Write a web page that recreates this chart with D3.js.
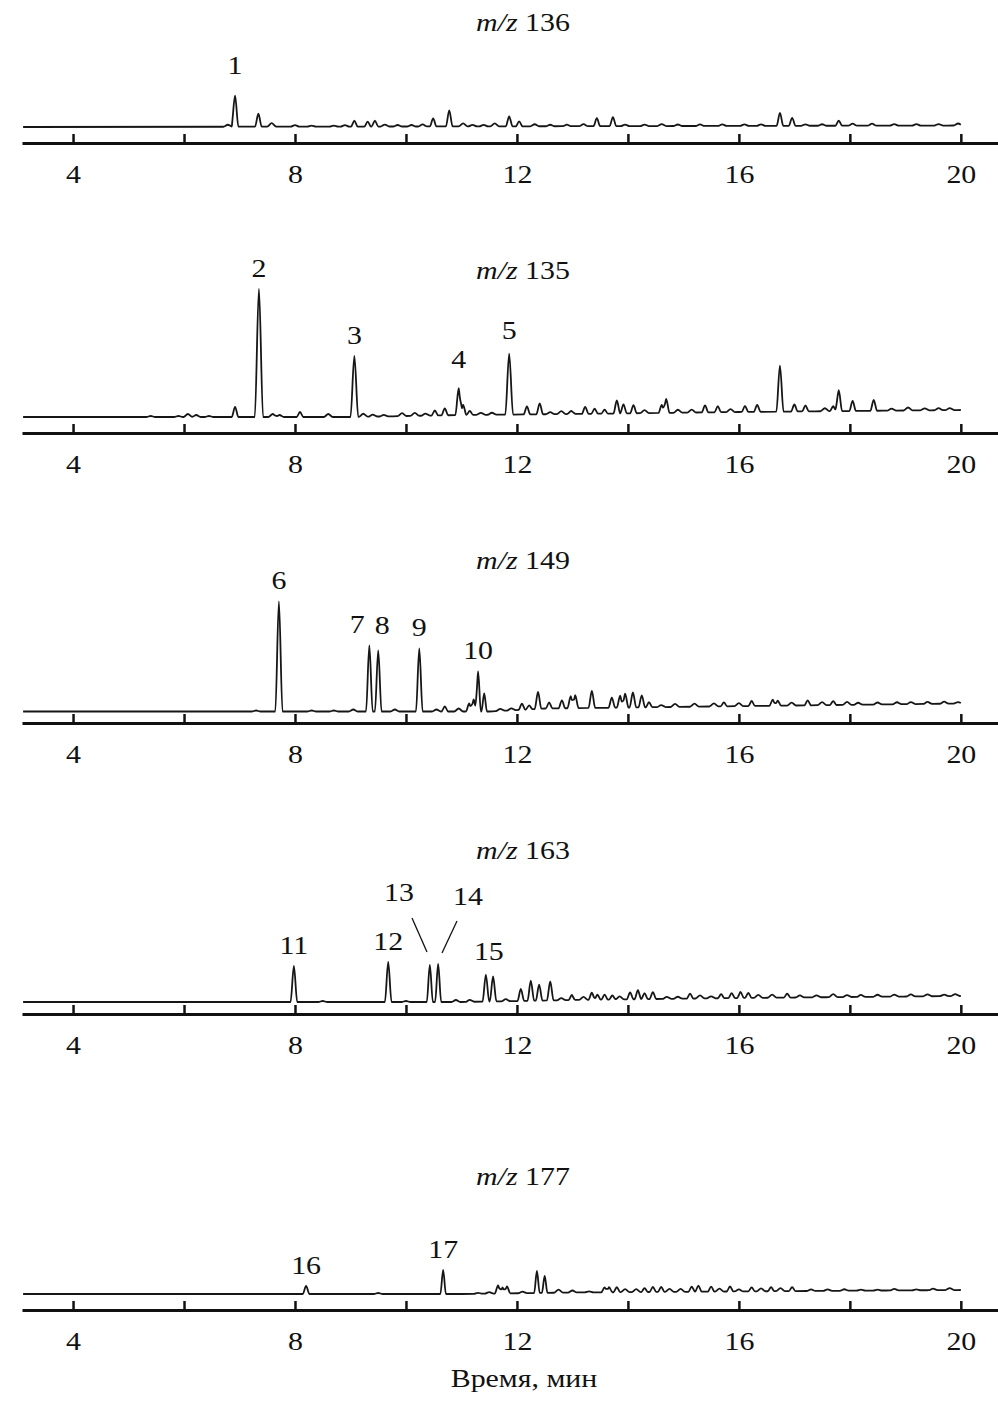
<!DOCTYPE html>
<html>
<head>
<meta charset="utf-8">
<script src="https://cdn.jsdelivr.net/npm/d3@7"></script>
<style>
  body { margin: 0; background: #fff; }
  text { font-family: "Liberation Serif", "Times New Roman", serif; fill: #111; }
</style>
</head>
<body>
<div id="chart"></div>
<script>
// ions shown in each panel, top to bottom
var ions = ["136", "135", "149", "163", "177"];
var tickValues = [4, 6, 8, 10, 12, 14, 16, 18, 20];
var tickLabels = [4, 8, 12, 16, 20];
var xTitle = "Время, мин";

// peaks: [retention time (min), height (rel. units), half width at base (optional)]
var peaks136 = [[6.79,2],[6.92,31],[7.34,13],[7.58,3.5],[8.0,1.5],[8.3,1],[8.7,1],[8.9,1.5],[9.07,6],[9.31,5],[9.44,6],[9.62,2],[9.85,1.5],[10.1,1.5],[10.3,2],[10.49,8],[10.78,16],[11.03,3],[11.2,1.5],[11.4,1.5],[11.6,3],[11.86,10],[12.04,5],[12.32,2],[12.6,1.5],[12.9,1.5],[13.2,2],[13.44,8],[13.73,9],[13.95,1.5],[14.3,1.5],[14.61,2],[14.9,1.5],[15.3,1.5],[15.7,1.5],[16.1,1.5],[16.4,1.5],[16.74,13],[16.96,8],[17.2,1.5],[17.5,1.5],[17.8,5],[18.05,2],[18.4,2],[18.8,1.5],[19.2,1.5],[19.6,1.5],[19.95,2]];
var peaks135 = [[5.4,1],[5.9,1],[6.07,3],[6.22,2],[6.45,1],[6.92,10],[7.35,128,0.075],[7.6,3],[7.72,2],[8.09,5],[8.6,3],[9.07,61,0.07],[9.23,3],[9.4,2],[9.6,1.5],[9.93,3],[10.16,3],[10.35,2],[10.52,5],[10.7,7],[10.95,27],[11.03,10],[11.15,4],[11.35,2],[11.55,2],[11.86,61,0.07],[12.18,8],[12.41,11],[12.6,2],[12.8,3],[12.98,3],[13.23,7],[13.4,5],[13.58,4],[13.8,13],[13.92,9],[14.1,8],[14.3,3],[14.61,8],[14.69,14],[14.9,3],[15.15,3],[15.39,7],[15.62,6],[15.85,3],[16.11,6],[16.33,7],[16.74,46,0.065],[17.0,7],[17.2,6],[17.55,3],[17.7,5],[17.8,21],[18.05,10],[18.43,11],[18.75,2],[19.05,3],[19.35,2],[19.6,2],[19.8,2]];
var peaks149 = [[7.3,1],[7.71,110,0.065],[8.3,1],[8.7,1],[9.05,2],[9.34,66],[9.5,61],[9.8,2],[10.24,63],[10.55,2],[10.7,5],[10.95,3],[11.14,8],[11.22,12],[11.3,40,0.05],[11.41,18,0.05],[11.7,2],[11.9,2],[12.09,6],[12.22,4],[12.38,17],[12.58,6],[12.81,8],[12.97,12],[13.05,13],[13.35,17],[13.71,10],[13.86,12],[13.95,14],[14.09,15],[14.25,12],[14.38,5],[14.6,2],[14.85,3],[15.2,3],[15.55,3],[15.73,4],[16.0,3],[16.23,5],[16.61,6],[16.7,5],[16.95,3],[17.24,5],[17.5,3],[17.7,4],[17.95,3],[18.15,2],[18.5,2],[18.85,2],[19.1,2],[19.4,2],[19.7,2],[19.95,1.5]];
var peaks163 = [[7.98,36],[8.5,1],[9.68,40],[10.0,1],[10.43,37,0.055],[10.58,38,0.055],[10.9,2],[11.15,2],[11.44,27],[11.57,25],[11.8,2],[12.07,12],[12.25,20],[12.4,16],[12.6,19],[12.8,2],[12.99,5],[13.2,3],[13.35,7],[13.45,5],[13.58,5],[13.72,4],[13.85,3],[14.04,7],[14.18,9],[14.3,6],[14.45,7],[14.7,2],[14.9,2],[15.12,5],[15.3,3],[15.5,2],[15.68,4],[15.87,5],[16.03,6],[16.17,5],[16.35,3],[16.6,3],[16.87,4],[17.1,2],[17.4,2],[17.7,3],[17.95,2],[18.2,2],[18.5,2],[18.8,2],[19.1,2],[19.4,2],[19.7,1.5],[19.9,2]];
var peaks177 = [[8.2,8],[9.5,1],[10.67,24,0.05],[11.3,1],[11.5,1.5],[11.66,8],[11.74,6],[11.82,7],[12.1,1.5],[12.36,22,0.05],[12.5,17,0.05],[12.75,3],[13.0,2],[13.3,1],[13.58,5],[13.66,5],[13.8,5],[13.95,3],[14.15,3],[14.3,4],[14.45,5],[14.6,5],[14.75,3],[14.95,3],[15.15,5],[15.27,6],[15.5,5],[15.65,3],[15.84,5],[16.0,2],[16.23,4],[16.4,3],[16.58,4],[16.75,3],[16.96,4],[17.3,1.5],[17.6,1.5],[17.9,1.5],[18.2,1],[18.5,1],[18.8,1.5],[19.2,1],[19.5,1.5],[19.8,2]];

// slow baseline drift: [time, level]
var drift136 = [[3.1,0],[10,0.5],[20,1.5]];
var drift135 = [[3.1,0],[9,0],[11,2],[13,3],[16,5],[20,7]];
var drift149 = [[3.1,0],[11.5,0],[12.5,3],[20,8]];
var drift163 = [[3.1,0],[11,0],[13,2],[16,4],[20,6]];
var drift177 = [[3.1,0],[11,0],[13,1.5],[20,4]];

// numbered peaks: [label, retention time]
var labels136 = [["1",6.92]];
var labels135 = [["2",7.35],["3",9.07],["4",10.95],["5",11.86]];
var labels149 = [["6",7.71],["7",9.34],["8",9.5],["9",10.24],["10",11.3]];
var labels163 = [["11",7.98],["12",9.68],["13",10.43],["14",10.58],["15",11.44]];
var labels177 = [["16",8.2],["17",10.67]];

var peaks = [peaks136, peaks135, peaks149, peaks163, peaks177];
var drifts = [drift136, drift135, drift149, drift163, drift177];
var labels = [labels136, labels135, labels149, labels163, labels177];

// layout
var W = 998, H = 1413;
var baseY  = [127, 417, 711.5, 1002, 1294];
var axisY  = [143, 433, 723, 1014, 1310];
var titleY = [22, 270, 560, 850, 1176];
var fontSize = 26;
var stretch = 1.15;   // type in the original is a little wide
// label nudges [dx, dy] relative to the default spot above the apex
var nudge = { "1":[0,-9], "4":[0,-8], "7":[-12,0], "8":[4,-4], "5":[0,-2], "15":[3,-2] };
var fixedLabels = { "13":[399,892], "14":[468,896] };

var svg = d3.select("#chart").append("svg")
  .attr("width", W)
  .attr("height", H);

var x = d3.scaleLinear().domain([3.08, 20.67]).range([22, 998]);

function addText(parent, tx, ty, size) {
  return parent.append("text")
    .attr("transform", `translate(${tx},${ty}) scale(${stretch},1)`)
    .attr("dy", "0.33em")
    .attr("text-anchor", "middle")
    .style("font-size", size + "px");
}

ions.forEach(function(ion, i) {
  var g = svg.append("g");
  var y = d3.scaleLinear().domain([0, 140]).range([baseY[i], baseY[i] - 140]);
  var drift = d3.scaleLinear()
    .domain(drifts[i].map(d => d[0]))
    .range(drifts[i].map(d => d[1]))
    .clamp(true);

  var pk = peaks[i];
  var hw = d => d[2] || (d[1] < 4 ? 0.08 : 0.06);
  // knots: feet and apex of each peak
  var knots = [3.1, 20.0];
  drifts[i].forEach(d => knots.push(d[0]));
  pk.forEach(function(d) { knots.push(d[0] - hw(d), d[0], d[0] + hw(d)); });
  knots = Array.from(new Set(knots.filter(t => t >= 3.1 && t <= 20.0))).sort((a, b) => a - b);

  var level = function(t) {
    var v = drift(t);
    pk.forEach(function(d) {
      var u = Math.abs(t - d[0]) / hw(d);
      if (u < 1) v += d[1] * (1 - u);
    });
    return v;
  };

  var trace = knots.map(t => [t, level(t)]);

  var line = d3.line()
    .x(d => x(d[0]))
    .y(d => y(d[1]))
    .curve(d3.curveMonotoneX);

  g.append("path")
    .datum(trace)
    .attr("fill", "none")
    .attr("stroke", "#161616")
    .attr("stroke-width", 1.8)
    .attr("stroke-linejoin", "round")
    .attr("d", line);

  // axis
  var axis = d3.axisBottom(x)
    .tickValues(tickValues)
    .tickSize(-9)
    .tickSizeOuter(0)
    .tickPadding(22)
    .tickFormat(d => tickLabels.indexOf(d) >= 0 ? d : "");

  var ax = g.append("g")
    .attr("transform", `translate(0, ${axisY[i]})`)
    .call(axis);
  ax.select(".domain").attr("stroke", "#111").attr("stroke-width", 3);
  ax.selectAll(".tick line").attr("stroke", "#111").attr("stroke-width", 2.5);
  ax.selectAll(".tick text")
    .attr("transform", `scale(${stretch},1)`)
    .style("font-family", '"Liberation Serif", serif')
    .style("font-size", fontSize + "px")
    .attr("fill", "#111");

  // title
  var title = addText(g, 523, titleY[i], fontSize);
  title.append("tspan").style("font-style", "italic").text("m/z");
  title.append("tspan").text(" " + ion);

  // peak numbers
  labels[i].forEach(function(l) {
    var lx, ly;
    if (fixedLabels[l[0]]) {
      lx = fixedLabels[l[0]][0];
      ly = fixedLabels[l[0]][1];
    } else {
      var n = nudge[l[0]] || [0, 0];
      lx = x(l[1]) + n[0];
      ly = y(level(l[1])) - 21 + n[1];
    }
    addText(g, lx, ly, fontSize).text(l[0]);
  });
});

// leader lines for 13 and 14
svg.append("line").attr("x1", 412).attr("y1", 918).attr("x2", 427).attr("y2", 952)
  .attr("stroke", "#111").attr("stroke-width", 1.3);
svg.append("line").attr("x1", 457).attr("y1", 921).attr("x2", 442).attr("y2", 953)
  .attr("stroke", "#111").attr("stroke-width", 1.3);

// x axis title
addText(svg, 524, 1378, fontSize).text(xTitle);
</script>
</body>
</html>
